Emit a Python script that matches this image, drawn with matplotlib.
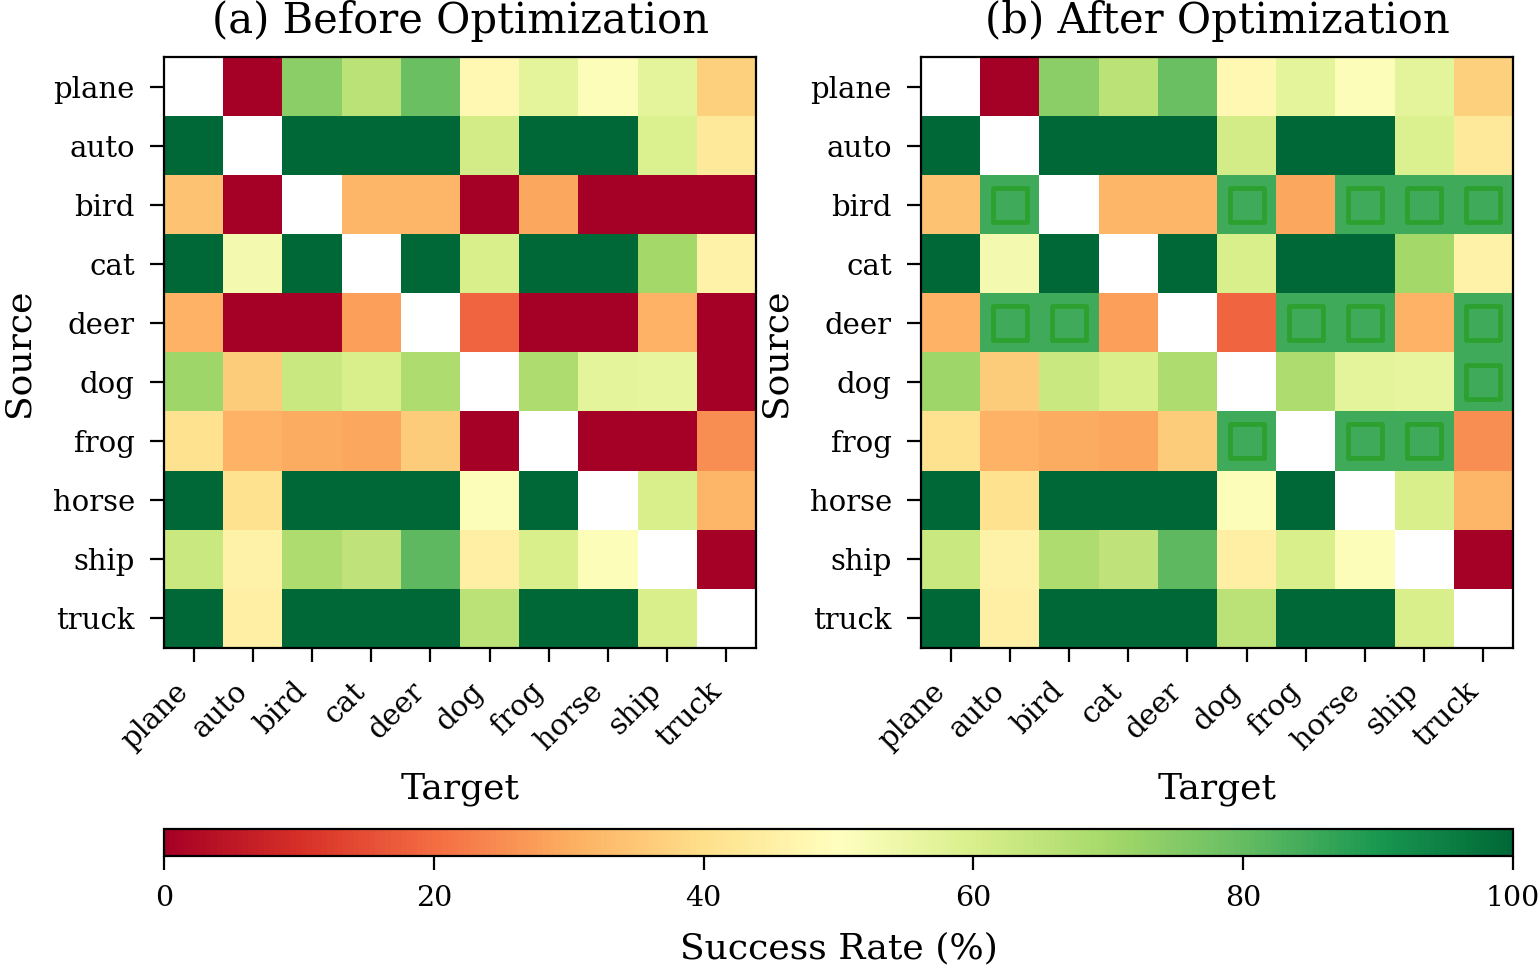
import numpy as np
import matplotlib
matplotlib.use("Agg")
import matplotlib.pyplot as plt

plt.rcParams['font.family'] = 'DejaVu Serif'

# class names (CIFAR-10)
classes = ['plane', 'auto', 'bird', 'cat', 'deer', 'dog', 'frog', 'horse', 'ship', 'truck']

# success rate (%) source (rows) -> target (cols), diagonal is empty
before = [
    [None, 0, 74, 66, 79, 48, 57, 51, 57, 37],
    [100, None, 100, 100, 100, 61, 100, 100, 59, 43],
    [34, 0, None, 32, 32, 0, 29, 0, 0, 0],
    [100, 53, 100, None, 100, 60, 100, 100, 70, 46],
    [31, 0, 0, 28, None, 19, 0, 0, 31, 0],
    [71, 36, 63, 60, 68, None, 68, 57, 56, 0],
    [41, 31, 30, 29, 36, 0, None, 0, 0, 25],
    [100, 41, 100, 100, 100, 51, 100, None, 60, 32],
    [63, 46, 68, 65, 81, 45, 60, 51, None, 0],
    [100, 45, 100, 100, 100, 66, 100, 100, 60, None],
]

after = [
    [None, 0, 74, 66, 79, 48, 57, 51, 57, 37],
    [100, None, 100, 100, 100, 61, 100, 100, 59, 43],
    [34, 85, None, 32, 32, 85, 29, 85, 85, 85],
    [100, 53, 100, None, 100, 60, 100, 100, 70, 46],
    [31, 85, 85, 28, None, 19, 85, 85, 31, 85],
    [71, 36, 63, 60, 68, None, 68, 57, 56, 85],
    [41, 31, 30, 29, 36, 85, None, 85, 85, 25],
    [100, 41, 100, 100, 100, 51, 100, None, 60, 32],
    [63, 46, 68, 65, 81, 45, 60, 51, None, 0],
    [100, 45, 100, 100, 100, 66, 100, 100, 60, None],
]

def to_arr(m):
    return np.array([[np.nan if v is None else v for v in row] for row in m], dtype=float)

A = to_arr(before)
B = to_arr(after)

cmap = plt.get_cmap('RdYlGn').copy()
cmap.set_bad('white')

W, H = 1539, 966
fig = plt.figure(figsize=(W / 100, H / 100), dpi=100)
ax1 = fig.add_axes([164 / W, 1 - 648 / H, 592 / W, 591 / H])
ax2 = fig.add_axes([921 / W, 1 - 648 / H, 592 / W, 591 / H])
cax = fig.add_axes([164 / W, 1 - 856 / H, 1349 / W, 27 / H])

for ax, M, title in [(ax1, A, '(a) Before Optimization'), (ax2, B, '(b) After Optimization')]:
    im = ax.imshow(M, cmap=cmap, vmin=0, vmax=100, aspect='auto', interpolation='nearest')
    ax.set_xticks(range(len(classes)))
    ax.set_yticks(range(len(classes)))
    ax.set_xticklabels(classes, rotation=45, ha='right', fontsize=21)
    ax.set_yticklabels(classes, fontsize=21)
    ax.tick_params(length=10, width=1.6, pad=11)
    ax.set_xlabel('Target', fontsize=26, labelpad=12)
    ax.set_ylabel('Source', fontsize=26, labelpad=12)
    ax.set_title(title, fontsize=30, pad=17)
    for s in ax.spines.values():
        s.set_linewidth(1.6)

# mark cells improved by the optimization
rows, cols = np.where((A == 0) & (B > 0))
ax2.scatter(cols, rows, marker='s', s=600, facecolors='none',
            edgecolors='#2ca02c', linewidths=3.5, alpha=0.9)
ax2.set_xlim(-0.5, 9.5)
ax2.set_ylim(9.5, -0.5)

cb = fig.colorbar(im, cax=cax, orientation='horizontal')
cb.set_ticks([0, 20, 40, 60, 80, 100])
cb.ax.tick_params(labelsize=20.5, length=10, width=1.6, pad=11)
cb.outline.set_linewidth(1.6)
cb.set_label('Success Rate (%)', fontsize=26, labelpad=14)

fig.savefig('out.png', dpi=100)
